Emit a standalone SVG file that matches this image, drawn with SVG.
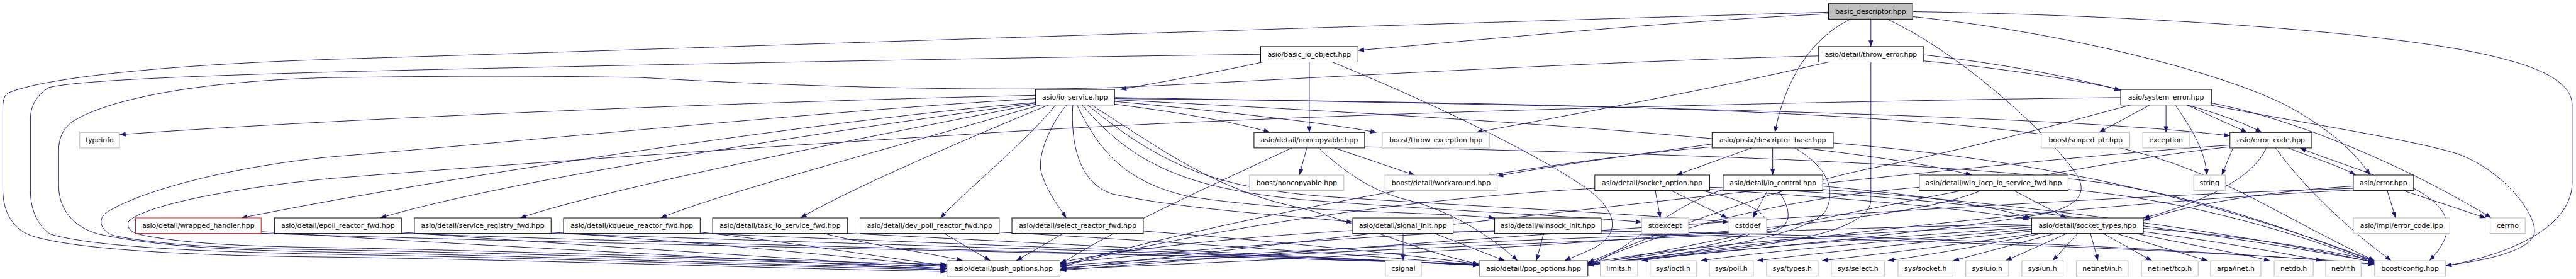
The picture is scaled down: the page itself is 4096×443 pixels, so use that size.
<svg xmlns="http://www.w3.org/2000/svg" width="4096" height="443" viewBox="0 0 4096 443">
<style>
.n rect{fill:#fff;stroke:#000;stroke-width:1.1}
.g rect{stroke:#c0c0c0;stroke-width:1.3}
.r rect{stroke:#ff0000}
.s rect{fill:#bfbfbf}
text{font-family:'DejaVu Sans','Liberation Sans',sans-serif;font-size:12.45px;text-anchor:middle;fill:#000}
.e path{fill:none;stroke:#191970;stroke-width:1.1;marker-end:url(#a)}
</style>
<defs>
<marker id="a" markerUnits="userSpaceOnUse" markerWidth="12" markerHeight="9" refX="11" refY="4.2" orient="auto" overflow="visible"><path d="M0,0 L11,4.2 L0,8.4 z" fill="#191970"/></marker>
</defs>
<rect width="4096" height="443" fill="#fff"/>
<g transform="scale(0.87973)">
<g id="edges" class="e">
<path d="M3305,22 C2500,45 1000,95 600,107 C300,117 80,140 14,168 C6,174 5,185 5,200 L5,340 C5,385 25,413 55,425 C150,455 400,462 600,464 C1000,470 1450,486 1711,490"/>
<path d="M3305,25 C3000,40 2700,70 2454.5,91"/>
<path d="M3381.5,34.5 L3381.5,84"/>
<path d="M3345,34.5 C3270,70 3225,150 3208,239"/>
<path d="M3457,30 C3750,60 4050,140 4150,200 C4220,240 4260,280 4284,316"/>
<path d="M3457,21 C3900,28 4350,60 4520,105 C4620,130 4649,160 4649,190 L4649,330 C4649,400 4560,455 4420,480"/>
<path d="M3411,34.5 C3550,100 3700,240 3750,310 C3775,345 3760,370 3700,385 C3500,420 3100,455 2870,478"/>
<path d="M2278.5,98 C1800,104 900,122 600,130 C350,137 140,145 88,158 C62,175 55,195 55,215 L55,345 C55,380 70,410 92,423 C180,448 400,455 600,459 C1000,466 1450,482 1711,487"/>
<path d="M2283,112 C2200,130 2100,148 2025,161.5"/>
<path d="M2366.5,112 L2366.5,239"/>
<path d="M2408,112 C2600,190 2780,280 2860,335 C2920,375 2935,420 2880,448 C2860,458 2840,465 2828,470.7"/>
<path d="M3286.5,101 C2900,110 2300,145 2040,157 C1850,165 1500,160 1160,140 C900,135 700,139 600,140 C380,145 200,175 130,220 C112,235 106,250 106,275 L106,335 C106,375 130,410 180,423 C300,448 450,452 600,455 C1000,463 1450,480 1711,484"/>
<path d="M3305,112 C3100,160 2850,205 2668,239"/>
<path d="M3477,99 C3620,115 3750,140 3833,163"/>
<path d="M3477,110 C3700,130 3980,180 4088,239"/>
<path d="M3381.5,112 L3381.5,360 C3381.5,400 3300,425 3200,440 C3050,460 2950,470 2870,476"/>
<path d="M1871.5,172 C1300,185 600,215 216,243"/>
<path d="M1871.5,185 C1500,215 800,320 436,393.3"/>
<path d="M1871.5,186 C1400,250 900,330 687,393.3"/>
<path d="M1871.5,188 C1500,260 1100,340 940,393.3"/>
<path d="M1880,189.5 C1600,270 1300,350 1194,393.3"/>
<path d="M1895,189.5 C1700,270 1520,350 1447,393.3"/>
<path d="M1908,189.5 C1850,260 1750,340 1699.6,393.3"/>
<path d="M1927.5,189.5 C1895,230 1870,290 1885,320 C1895,350 1915,375 1927.5,393.3"/>
<path d="M1939,189.5 C1935,260 1950,330 2010,350 C2150,380 2350,390 2445,401"/>
<path d="M1946.6,189.5 C1990,280 2040,330 2150,355 C2350,385 2550,380 2701.5,393.3"/>
<path d="M1956,189.5 C2050,300 2150,340 2350,360 C2600,380 2850,390 2967.5,401"/>
<path d="M1966,189.5 C2100,300 2200,340 2400,355 C2700,375 2950,385 3125,401"/>
<path d="M1973,189.5 C2100,270 2200,345 2350,375 C2450,400 2550,450 2673.5,477"/>
<path d="M1871.5,178 C1500,200 1000,250 600,283 C420,300 250,345 190,385 C175,400 185,418 205,425 C300,445 450,449 600,451 C1000,458 1450,476 1711,480"/>
<path d="M2014.5,188 C2150,205 2250,225 2295,239"/>
<path d="M2014.5,183 C2200,200 2400,222 2488,239"/>
<path d="M2014.5,180 C2600,210 3300,250 3564,316"/>
<path d="M2014.5,176 C2800,190 3700,205 4030.5,245"/>
<path d="M2014.5,178 C2800,185 3500,200 3800,260 C4000,300 4100,380 4292,470.7"/>
<path d="M3885.6,189.5 L3793.8,239"/>
<path d="M3915,189.5 L3915,239"/>
<path d="M3931.5,189.5 C3960,230 3985,270 3989,316"/>
<path d="M3952.6,189.5 L4061.6,239"/>
<path d="M3997,186 C4150,215 4350,300 4503,393.3"/>
<path d="M3997,190 C4150,220 4350,250 4440,277 C4520,305 4581,380 4581,417 C4581,450 4500,470 4420,479"/>
<path d="M3851,189.5 C3700,230 3550,270 3400,300 C3200,340 3000,420 2870,474"/>
<path d="M3833,176 C3300,182 2300,205 1740,243 C1300,270 900,298 600,322 C430,338 260,370 232,400 C228,414 240,421 260,425 C350,442 470,445 600,447 C1000,454 1450,473 1711,477"/>
<path d="M2362,267 L2348.7,316"/>
<path d="M2411.8,267 L2557,316"/>
<path d="M2383,267 C2430,310 2480,345 2540,360 C2620,378 2700,430 2743,470.7"/>
<path d="M2335,267 C2200,330 2000,420 1916,478"/>
<path d="M2466.5,265 C2900,275 3500,290 3800,330 C4000,360 4150,420 4292,472"/>
<path d="M3166,267 L3030,316"/>
<path d="M3204,267 L3204,316"/>
<path d="M3094.5,260 C2950,280 2800,300 2706,318"/>
<path d="M3094.5,265 C2700,300 2200,400 1916,480"/>
<path d="M3313.5,258 C3700,290 4000,360 4292,471"/>
<path d="M3244,267 C3300,300 3320,340 3300,380 C3270,430 3000,465 2870,477"/>
<path d="M2991.8,344 L3001,393.3"/>
<path d="M3020.5,344 L3122,393.3"/>
<path d="M3090,342 C3300,355 3550,375 3667,396"/>
<path d="M3090,338 C3500,350 4000,420 4292,473"/>
<path d="M2882.5,340 C2500,360 2100,430 1916,482"/>
<path d="M3076,344 C3150,360 3200,385 3190,405 C3170,440 2950,465 2870,476"/>
<path d="M3194.6,344 L3168,393.3"/>
<path d="M3294.5,336 C3450,350 3600,370 3670,394"/>
<path d="M3294.5,342 C3700,370 4100,430 4292,474"/>
<path d="M3213.8,344 C3240,380 3240,410 3200,420 C2800,440 2200,460 1916,484"/>
<path d="M3114.5,342 C3000,380 2950,450 2870,479"/>
<path d="M3640,344 L3735,393.3"/>
<path d="M3580,344 C3450,400 3000,440 1916,486"/>
<path d="M3469,338 C3200,360 3000,420 2870,477"/>
<path d="M3738,342 C3950,360 4150,420 4292,475"/>
<path d="M4036,267 L4015.7,316"/>
<path d="M4136,267 C4180,285 4230,300 4257.6,316"/>
<path d="M4113,267 C4180,360 4280,440 4322,470.7"/>
<path d="M4096,267 C4070,330 3950,375 3874,393.3"/>
<path d="M4030.5,262 C3600,290 2500,420 1916,486"/>
<path d="M4030.5,265 C3700,300 3100,440 2870,478"/>
<path d="M4290,316 C4250,300 4200,285 4157,267"/>
<path d="M4314.7,344 L4330,393.3"/>
<path d="M4344,344 L4493,393.3"/>
<path d="M4362.5,340 C4420,370 4450,410 4391,470.7"/>
<path d="M4253.5,336 C4100,345 3950,370 3874,398"/>
<path d="M4253.5,340 C3600,360 2400,450 1916,488"/>
<path d="M4253.5,343 C3700,370 3100,450 2870,479"/>
<path d="M472,418 C800,440 1400,470 1711,487"/>
<path d="M472,421 C1000,440 2200,460 2673.5,477"/>
<path d="M725.5,419 C1000,440 1500,470 1711,485"/>
<path d="M725.5,421 C1200,440 2200,460 2673.5,478"/>
<path d="M996,419 C1300,440 1550,465 1711,482"/>
<path d="M996,421 C1500,440 2300,460 2673.5,478"/>
<path d="M1265.5,419 C1450,440 1600,465 1711,480"/>
<path d="M1265.5,421 C1700,440 2300,460 2673.5,479"/>
<path d="M1489,421.3 C1560,440 1700,460 1740,470.7"/>
<path d="M1532,421 C1900,440 2400,465 2673.5,479"/>
<path d="M1706.7,421.3 L1790,470.7"/>
<path d="M1806,419 C2100,435 2450,460 2673.5,478"/>
<path d="M1921.7,421.3 L1836.7,470.7"/>
<path d="M2066.5,417 C2300,435 2550,460 2673.5,477"/>
<path d="M2536,421.3 L2536,470.7"/>
<path d="M2593,421.3 L2720,470.7"/>
<path d="M2445,416 C2200,430 2000,455 1916,474"/>
<path d="M2626.5,417 C3200,425 3900,445 4292,476"/>
<path d="M2790,421.3 L2777,470.7"/>
<path d="M2701.5,416 C2400,430 2100,455 1916,476"/>
<path d="M2894,417 C3400,425 3900,445 4292,477"/>
<path d="M3672,410 C3400,430 3100,450 2967,470.7"/>
<path d="M3672,414 C3450,432 3200,452 3074,470.7"/>
<path d="M3672,417 C3500,435 3300,455 3176,470.7"/>
<path d="M3680,421.3 C3550,440 3400,458 3293,470.7"/>
<path d="M3690,421.3 C3600,440 3500,458 3412,470.7"/>
<path d="M3715,421.3 L3530,470.7"/>
<path d="M3736,421.3 L3625,470.7"/>
<path d="M3755.5,421.3 L3710,470.7"/>
<path d="M3778.5,421.3 L3792,470.7"/>
<path d="M3801.4,421.3 L3889.5,470.7"/>
<path d="M3824.4,421.3 L3990,470.7"/>
<path d="M3860,421.3 C3950,440 4050,458 4103,470.7"/>
<path d="M3874,418 C4000,435 4120,455 4197,470.7"/>
<path d="M3874,412 C4050,425 4200,450 4292,470.7"/>
<path d="M3672,404 C3000,420 2300,450 1916,480"/>
<path d="M3672,407 C3300,420 3000,450 2870,475"/>
</g>
<g id="n-basic_descriptor" class="n s"><rect x="3305" y="6.5" width="152" height="28"/><text x="3381" y="24.5">basic_descriptor.hpp</text></g>
<g id="n-basic_io_object" class="n"><rect x="2278.5" y="84" width="176" height="28"/><text x="2366.5" y="102">asio/basic_io_object.hpp</text></g>
<g id="n-throw_error" class="n"><rect x="3286.5" y="84" width="190.5" height="28"/><text x="3381.75" y="102">asio/detail/throw_error.hpp</text></g>
<g id="n-io_service" class="n"><rect x="1871.5" y="161.5" width="143" height="28"/><text x="1943" y="179.5">asio/io_service.hpp</text></g>
<g id="n-system_error" class="n"><rect x="3833" y="161.5" width="164" height="28"/><text x="3915" y="179.5">asio/system_error.hpp</text></g>
<g id="n-typeinfo" class="n g"><rect x="144" y="239" width="72" height="28"/><text x="180" y="257">typeinfo</text></g>
<g id="n-noncopyable" class="n"><rect x="2266.5" y="239" width="200" height="28"/><text x="2366.5" y="257">asio/detail/noncopyable.hpp</text></g>
<g id="n-throw_exception" class="n g"><rect x="2498.5" y="239" width="193.5" height="28"/><text x="2595.25" y="257">boost/throw_exception.hpp</text></g>
<g id="n-descriptor_base" class="n"><rect x="3094.5" y="239" width="219" height="28"/><text x="3204" y="257">asio/posix/descriptor_base.hpp</text></g>
<g id="n-scoped_ptr" class="n g"><rect x="3689.5" y="239" width="160" height="28"/><text x="3769.5" y="257">boost/scoped_ptr.hpp</text></g>
<g id="n-exception" class="n g"><rect x="3873" y="239" width="84" height="28"/><text x="3915" y="257">exception</text></g>
<g id="n-error_code" class="n"><rect x="4030.5" y="239" width="148" height="28"/><text x="4104.5" y="257">asio/error_code.hpp</text></g>
<g id="n-boost_noncopyable" class="n g"><rect x="2258.5" y="316" width="170.5" height="28"/><text x="2343.75" y="334">boost/noncopyable.hpp</text></g>
<g id="n-workaround" class="n g"><rect x="2503.5" y="316" width="202.5" height="28"/><text x="2604.75" y="334">boost/detail/workaround.hpp</text></g>
<g id="n-socket_option" class="n"><rect x="2882.5" y="316" width="207.5" height="28"/><text x="2986.25" y="334">asio/detail/socket_option.hpp</text></g>
<g id="n-io_control" class="n"><rect x="3114.5" y="316" width="180" height="28"/><text x="3204.5" y="334">asio/detail/io_control.hpp</text></g>
<g id="n-win_iocp" class="n"><rect x="3469" y="316" width="269" height="28"/><text x="3603.5" y="334">asio/detail/win_iocp_io_service_fwd.hpp</text></g>
<g id="n-string" class="n g"><rect x="3965" y="316" width="57" height="28"/><text x="3993.5" y="334">string</text></g>
<g id="n-error" class="n"><rect x="4253.5" y="316" width="109" height="28"/><text x="4308" y="334">asio/error.hpp</text></g>
<g id="n-wrapped_handler" class="n r"><rect x="245" y="393.3" width="227" height="28"/><text x="358.5" y="411.3">asio/detail/wrapped_handler.hpp</text></g>
<g id="n-epoll" class="n"><rect x="496" y="393.3" width="229.5" height="28"/><text x="610.75" y="411.3">asio/detail/epoll_reactor_fwd.hpp</text></g>
<g id="n-service_registry" class="n"><rect x="749" y="393.3" width="247" height="28"/><text x="872.5" y="411.3">asio/detail/service_registry_fwd.hpp</text></g>
<g id="n-kqueue" class="n"><rect x="1018.5" y="393.3" width="247" height="28"/><text x="1142" y="411.3">asio/detail/kqueue_reactor_fwd.hpp</text></g>
<g id="n-task_io" class="n"><rect x="1288" y="393.3" width="244" height="28"/><text x="1410" y="411.3">asio/detail/task_io_service_fwd.hpp</text></g>
<g id="n-dev_poll" class="n"><rect x="1554.5" y="393.3" width="251.5" height="28"/><text x="1680.25" y="411.3">asio/detail/dev_poll_reactor_fwd.hpp</text></g>
<g id="n-select_reactor" class="n"><rect x="1829" y="393.3" width="237.5" height="28"/><text x="1947.75" y="411.3">asio/detail/select_reactor_fwd.hpp</text></g>
<g id="n-signal_init" class="n"><rect x="2445" y="393.3" width="181.5" height="28"/><text x="2535.75" y="411.3">asio/detail/signal_init.hpp</text></g>
<g id="n-winsock_init" class="n"><rect x="2701.5" y="393.3" width="192.5" height="28"/><text x="2797.75" y="411.3">asio/detail/winsock_init.hpp</text></g>
<g id="n-stdexcept" class="n g"><rect x="2967.5" y="393.3" width="84.5" height="28"/><text x="3009.75" y="411.3">stdexcept</text></g>
<g id="n-cstddef" class="n g"><rect x="3125" y="393.3" width="68" height="28"/><text x="3159" y="411.3">cstddef</text></g>
<g id="n-socket_types" class="n"><rect x="3672" y="393.3" width="202" height="28"/><text x="3773" y="411.3">asio/detail/socket_types.hpp</text></g>
<g id="n-error_code_ipp" class="n g"><rect x="4253.5" y="393.3" width="174.5" height="28"/><text x="4340.75" y="411.3">asio/impl/error_code.ipp</text></g>
<g id="n-cerrno" class="n g"><rect x="4501" y="393.3" width="63" height="28"/><text x="4532.5" y="411.3">cerrno</text></g>
<g id="n-push_options" class="n"><rect x="1711.5" y="470.7" width="204.5" height="28"/><text x="1813.75" y="488.7">asio/detail/push_options.hpp</text></g>
<g id="n-csignal" class="n g"><rect x="2504" y="470.7" width="65" height="28"/><text x="2536.5" y="488.7">csignal</text></g>
<g id="n-pop_options" class="n"><rect x="2673.5" y="470.7" width="196.5" height="28"/><text x="2771.75" y="488.7">asio/detail/pop_options.hpp</text></g>
<g id="n-limits" class="n g"><rect x="2892.5" y="470.7" width="67.5" height="28"/><text x="2926.25" y="488.7">limits.h</text></g>
<g id="n-ioctl" class="n g"><rect x="2982.5" y="470.7" width="83.5" height="28"/><text x="3024.25" y="488.7">sys/ioctl.h</text></g>
<g id="n-poll" class="n g"><rect x="3089.5" y="470.7" width="79.5" height="28"/><text x="3129.25" y="488.7">sys/poll.h</text></g>
<g id="n-types" class="n g"><rect x="3193" y="470.7" width="93" height="28"/><text x="3239.5" y="488.7">sys/types.h</text></g>
<g id="n-select_h" class="n g"><rect x="3310" y="470.7" width="96.5" height="28"/><text x="3358.25" y="488.7">sys/select.h</text></g>
<g id="n-socket_h" class="n g"><rect x="3430.5" y="470.7" width="99.5" height="28"/><text x="3480.25" y="488.7">sys/socket.h</text></g>
<g id="n-uio" class="n g"><rect x="3553" y="470.7" width="77.5" height="28"/><text x="3591.75" y="488.7">sys/uio.h</text></g>
<g id="n-un" class="n g"><rect x="3654.5" y="470.7" width="74.5" height="28"/><text x="3691.75" y="488.7">sys/un.h</text></g>
<g id="n-netinet_in" class="n g"><rect x="3753" y="470.7" width="93.5" height="28"/><text x="3799.75" y="488.7">netinet/in.h</text></g>
<g id="n-netinet_tcp" class="n g"><rect x="3870.5" y="470.7" width="102.5" height="28"/><text x="3921.75" y="488.7">netinet/tcp.h</text></g>
<g id="n-arpa_inet" class="n g"><rect x="3995.5" y="470.7" width="91" height="28"/><text x="4041" y="488.7">arpa/inet.h</text></g>
<g id="n-netdb" class="n g"><rect x="4110.5" y="470.7" width="70.5" height="28"/><text x="4145.75" y="488.7">netdb.h</text></g>
<g id="n-net_if" class="n g"><rect x="4203.5" y="470.7" width="64" height="28"/><text x="4235.5" y="488.7">net/if.h</text></g>
<g id="n-boost_config" class="n g"><rect x="4292" y="470.7" width="128" height="28"/><text x="4356" y="488.7">boost/config.hpp</text></g>
</g>
</svg>
